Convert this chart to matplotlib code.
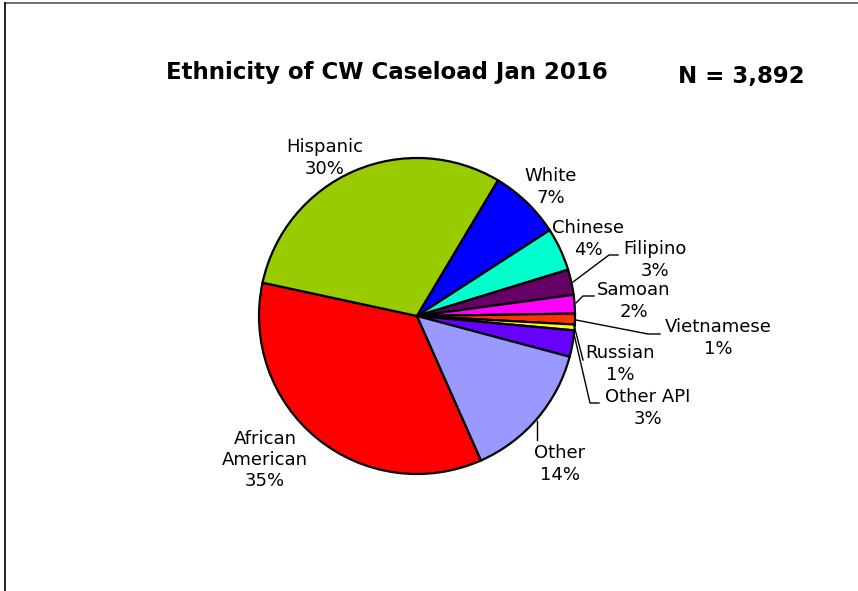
import matplotlib
matplotlib.use("Agg")
import matplotlib.pyplot as plt
from matplotlib.lines import Line2D

# dados (sentido horario, a partir de African American)
grupos = ["African\nAmerican", "Hispanic", "White", "Chinese", "Filipino",
          "Samoan", "Vietnamese", "Russian", "Other API", "Other"]
casos = [1363, 1175, 284, 171, 101, 74, 43, 23, 105, 553]
cores = ["#FF0000", "#99CC00", "#0000FF", "#00FFCC", "#660066",
         "#FF00FF", "#FF3300", "#FFFF00", "#6600FF", "#9999FF"]
titulo = "Ethnicity of CW Caseload Jan 2016"
total_txt = "N = 3,892"

# layout em pixels (y medido de cima)
ALT = 591
centro = (417, 316)
raio = 158
pos_rotulos = [(265, 460), (325, 158), (551, 187), (588, 239), (655, 260),
               (634, 301), (718, 338), (620, 364), (648, 408), (560, 464)]
guias = [
    None, None, None, None,
    [(573, 282), (609, 255), (618, 255)],
    [(576, 303), (583, 296), (594, 296)],
    [(576, 320), (648, 334), (660, 334)],
    [(575, 329), (583, 360)],
    [(574, 334), (590, 403), (599, 403)],
    [(537, 421), (537, 440)],
]

fig = plt.figure(figsize=(8.58, 5.91), dpi=100)
ax = fig.add_axes([0, 0, 1, 1])

ax.pie(casos, colors=cores, startangle=293.9, counterclock=False,
       center=(centro[0], ALT - centro[1]), radius=raio,
       wedgeprops=dict(edgecolor="black", linewidth=1.6), frame=True)
ax.axis("off")
ax.set_xlim(0, 858)
ax.set_ylim(0, ALT)
ax.set_aspect("equal")

total = sum(casos)
for nome, n, (x, y) in zip(grupos, casos, pos_rotulos):
    ax.text(x, ALT - y, f"{nome}\n{round(100 * n / total):.0f}%",
            ha="center", va="center", fontsize=13, linespacing=1.25)

for g in guias:
    if g:
        xs = [p[0] for p in g]
        ys = [ALT - p[1] for p in g]
        ax.plot(xs, ys, color="black", linewidth=1)

ax.text(387, ALT - 72, titulo, ha="center", va="center",
        fontsize=16.5, fontweight="bold")
ax.text(741, ALT - 76, total_txt, ha="center", va="center",
        fontsize=16.5, fontweight="bold")

# moldura (topo cinza e lateral esquerda)
ax.add_line(Line2D([5, 858], [ALT - 3, ALT - 3], color="#555555", linewidth=1.2))
ax.add_line(Line2D([5, 5], [ALT - 3, 0], color="black", linewidth=1.2))

fig.savefig("out.png", dpi=100)
